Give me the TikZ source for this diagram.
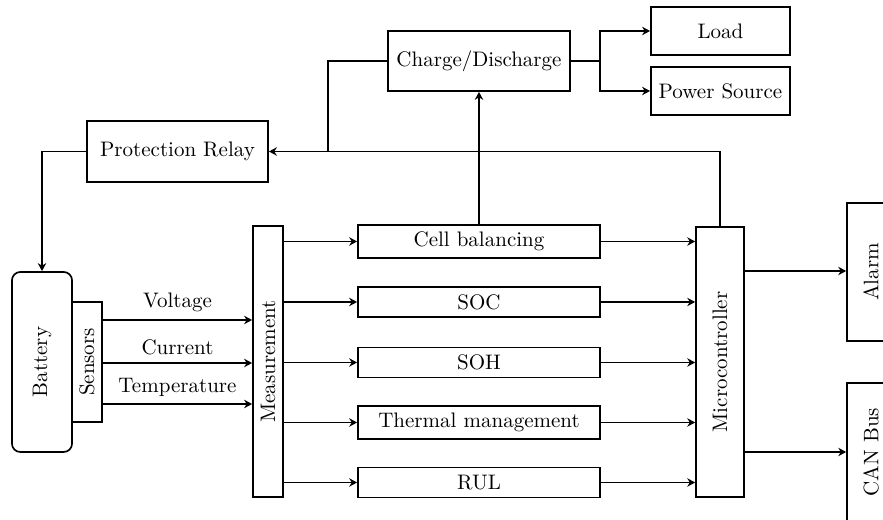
\documentclass[tikz,border=0pt]{standalone}
\usetikzlibrary{arrows.meta}
\begin{document}
\begin{tikzpicture}[x=0.476pt,y=-0.476pt,
  box/.style={draw, line width=0.8pt, align=center},
  rbox/.style={draw, line width=0.8pt, inner sep=0pt},
  conn/.style={line width=0.8pt},
  arr/.style={conn, -{Stealth[length=3.8pt,width=4pt]}},
  ]
\useasboundingbox (0,0) rectangle (883,520);
\clip (0,0) rectangle (883,520);
% top row
\node[box, minimum width=86.2pt, minimum height=29pt] (pr) at (177.5,151.5) {Protection Relay};
\node[box, minimum width=86.6pt, minimum height=28.6pt] (cd) at (479,61) {Charge/Discharge};
\node[box, minimum width=66.2pt, minimum height=22.8pt] (load) at (720.5,31) {Load};
\node[box, minimum width=66.2pt, minimum height=22.8pt] (ps) at (720.5,91) {Power Source};
% left
\node[rbox, rounded corners=4pt, minimum width=28.6pt, minimum height=85.7pt] (bat) at (42,362) {\rotatebox{90}{Battery}};
\node[rbox, minimum width=14.3pt, minimum height=57.1pt] (sens) at (87,362) {\rotatebox{90}{Sensors}};
\node[rbox, minimum width=14.3pt, minimum height=129pt] (meas) at (268,361.5) {\rotatebox{90}{Measurement}};
% middle
\node[box, minimum width=115.2pt, minimum height=14.3pt] (cb) at (479,241.5) {Cell balancing};
\node[box, minimum width=115.2pt, minimum height=14.3pt] (soc) at (479,302) {SOC};
\node[box, minimum width=115.2pt, minimum height=14.3pt] (soh) at (479,362.5) {SOH};
\node[box, minimum width=115.2pt, minimum height=14.3pt] (tm) at (479,422.5) {Thermal management};
\node[box, minimum width=115.2pt, minimum height=14.3pt] (rul) at (479,482.5) {RUL};
% right
\node[rbox, minimum width=22.8pt, minimum height=128.5pt] (mc) at (720,362) {\rotatebox{90}{Microcontroller}};
\node[rbox, minimum width=22.8pt, minimum height=65.7pt] (alarm) at (871,272) {\rotatebox{90}{Alarm}};
\node[rbox, minimum width=22.8pt, minimum height=65.7pt] (can) at (871,452) {\rotatebox{90}{CAN Bus}};
% helper coordinates
\coordinate (yv) at (0,320);
\coordinate (yc) at (0,363);
\coordinate (yt) at (0,404);
\coordinate (ya) at (0,271);
\coordinate (jn) at (328,151.5);
\coordinate (sp) at (600,61);
% sensors -> measurement
\draw[arr] (sens.east |- yv) -- (meas.west |- yv) node[midway, above] {Voltage};
\draw[arr] (sens.east |- yc) -- (meas.west |- yc) node[midway, above] {Current};
\draw[arr] (sens.east |- yt) -- (meas.west |- yt) node[midway, above] {Temperature};
% measurement -> blocks -> microcontroller
\foreach \n in {cb,soc,soh,tm,rul}{
  \draw[arr] (meas.east |- \n.west) -- (\n.west);
  \draw[arr] (\n.east) -- (\n.east -| mc.west);
}
% cell balancing -> charge/discharge
\draw[arr] (cb.north) -- (cd.south);
% charge/discharge -> junction
\draw[conn] (cd.west) -| (jn);
% microcontroller -> protection relay
\draw[arr] (mc.north) |- (pr.east);
% protection relay -> battery
\draw[arr] (pr.west) -| (bat.north);
% charge/discharge -> load / power source
\draw[conn] (cd.east) -- (sp);
\draw[arr] (sp) |- (load.west);
\draw[arr] (sp) |- (ps.west);
% microcontroller -> alarm / CAN
\draw[arr] (mc.east |- ya) -- (alarm.west |- ya);
\draw[arr] (mc.east |- can.west) -- (can.west);
\end{tikzpicture}
\end{document}
